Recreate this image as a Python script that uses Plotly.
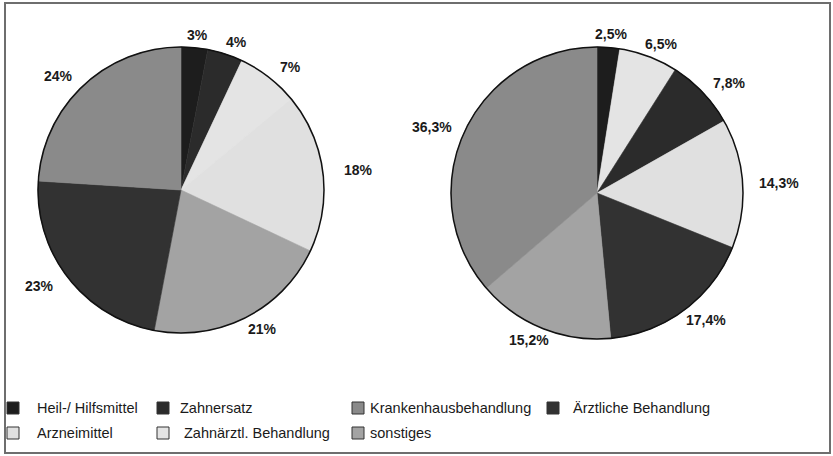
import math
import plotly.graph_objects as go

# Kategorien (Legende) und Anteile je Kreisdiagramm, im Uhrzeigersinn ab 12 Uhr
categories = [
    "Heil-/ Hilfsmittel",
    "Zahnersatz",
    "Krankenhausbehandlung",
    "Ärztliche Behandlung",
    "Arzneimittel",
    "Zahnärztl. Behandlung",
    "sonstiges",
]

left_labels = ["Heil-/ Hilfsmittel", "Zahnersatz", "Zahnärztl. Behandlung", "Arzneimittel",
               "sonstiges", "Ärztliche Behandlung", "Krankenhausbehandlung"]
left_values = [3, 4, 7, 18, 21, 23, 24]

right_labels = ["Heil-/ Hilfsmittel", "Zahnärztl. Behandlung", "Zahnersatz", "Arzneimittel",
                "Ärztliche Behandlung", "sonstiges", "Krankenhausbehandlung"]
right_values = [2.5, 6.5, 7.8, 14.3, 17.4, 15.2, 36.3]

# Graustufen je Kategorie
colors = {
    "Heil-/ Hilfsmittel": "#1d1d1d",
    "Zahnersatz": "#2b2b2b",
    "Krankenhausbehandlung": "#8a8a8a",
    "Ärztliche Behandlung": "#323232",
    "Arzneimittel": "#e0e0e0",
    "Zahnärztl. Behandlung": "#e4e4e4",
    "sonstiges": "#a3a3a3",
}

W, H = 833, 456
FONT = "Liberation Sans, Arial, sans-serif"

def px_x(x):
    return x / W

def px_y(y):
    return 1 - y / H

def fmt(v):
    return f"{v:g}".replace(".", ",") + "%"

fig = go.Figure()
shapes = []
annotations = []

# Kreisdiagramme: Mittelpunkt und Radius in Pixeln
pies = [
    (left_labels, left_values, 181, 190, 143),
    (right_labels, right_values, 597, 193, 146),
]

for labels, values, cx, cy, r in pies:
    slice_colors = [colors[l] for l in labels]
    fig.add_trace(go.Pie(
        labels=labels,
        values=values,
        sort=False,
        direction="clockwise",
        rotation=0,
        textinfo="none",
        hoverinfo="label+percent",
        marker=dict(colors=slice_colors, line=dict(color=slice_colors, width=0.6)),
        domain=dict(x=[px_x(cx - r), px_x(cx + r)], y=[px_y(cy + r), px_y(cy - r)]),
        showlegend=False,
    ))
    # äußere Randlinie
    shapes.append(dict(type="circle", xref="paper", yref="paper",
                       x0=px_x(cx - r), x1=px_x(cx + r), y0=px_y(cy + r), y1=px_y(cy - r),
                       line=dict(color="#111111", width=1.5)))
    # Prozentbeschriftungen außerhalb der Segmente
    total = sum(values)
    cum = 0.0
    rx, ry = r + 36, r + 13
    for v in values:
        mid = (cum + v / 2) / total
        cum += v
        th = 2 * math.pi * mid
        annotations.append(dict(
            x=px_x(cx + rx * math.sin(th)), y=px_y(cy - ry * math.cos(th)),
            xref="paper", yref="paper", text=f"<b>{fmt(v)}</b>", showarrow=False,
            xanchor="center", yanchor="middle",
            font=dict(family=FONT, size=14, color="#1a1a1a"),
        ))

# Legende: vier Spalten, zwei Zeilen
legend_slots = [
    (7, 35, 408), (157, 178, 408), (352, 368, 408), (547, 571, 408),
    (7, 35, 433), (157, 182, 433), (352, 368, 433),
]
sw = 12
for cat, (sx, tx, ty) in zip(categories, legend_slots):
    shapes.append(dict(type="rect", xref="paper", yref="paper",
                       x0=px_x(sx), x1=px_x(sx + sw), y0=px_y(ty + sw / 2), y1=px_y(ty - sw / 2),
                       fillcolor=colors[cat], line=dict(color="#333333", width=1)))
    annotations.append(dict(
        x=px_x(tx), y=px_y(ty), xref="paper", yref="paper", text=cat, showarrow=False,
        xanchor="left", yanchor="middle",
        font=dict(family=FONT, size=14.5, color="#1a1a1a"),
    ))

# Rahmen
shapes.append(dict(type="rect", xref="paper", yref="paper",
                   x0=px_x(5), x1=px_x(830), y0=px_y(453), y1=px_y(3),
                   line=dict(color="#6e6e6e", width=2), fillcolor="rgba(0,0,0,0)"))

fig.update_layout(
    width=W, height=H,
    margin=dict(l=0, r=0, t=0, b=0),
    paper_bgcolor="white",
    plot_bgcolor="white",
    showlegend=False,
    shapes=shapes,
    annotations=annotations,
)

fig.write_html("out.html")
